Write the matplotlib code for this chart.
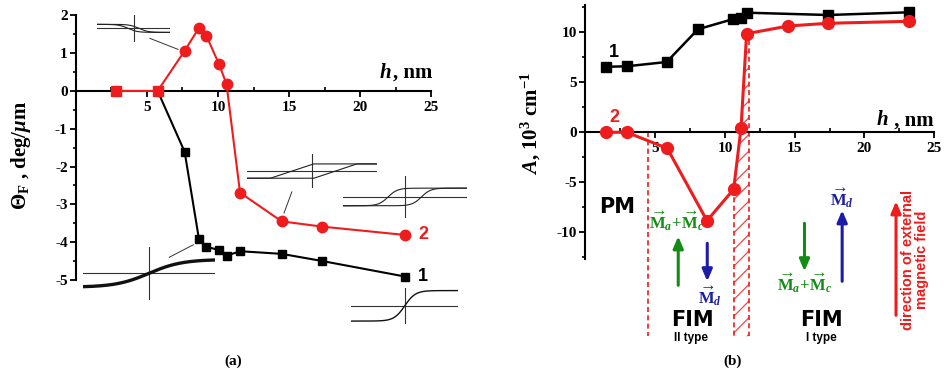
import matplotlib
matplotlib.use('Agg')
import matplotlib.pyplot as plt
from matplotlib.patches import Polygon
from matplotlib.ticker import FixedLocator
import numpy as np

plt.rcParams['font.family'] = ['Liberation Serif', 'DejaVu Serif']
plt.rcParams['font.weight'] = 'bold'
plt.rcParams['mathtext.fontset'] = 'custom'
plt.rcParams['mathtext.rm'] = 'Liberation Serif:bold'
plt.rcParams['mathtext.bf'] = 'Liberation Serif:bold'
plt.rcParams['mathtext.it'] = 'Liberation Serif:italic:bold'
plt.rcParams['axes.unicode_minus'] = False
plt.rcParams['hatch.linewidth'] = 0.9

RED = '#ee1c1c'
GREEN = '#148c14'
BLUE = '#1c1ca8'

# ---- panel (a): Faraday rotation vs thickness ----
h_a = [2.8, 5.75, 7.65, 8.66, 9.18, 10.07, 10.6, 11.55, 14.48, 17.35, 23.17]
theta_2 = [0, 0, 1.06, 1.67, 1.46, 0.71, 0.18, -2.69, -3.45, -3.59, -3.81]
h_a1 = [5.75, 7.65, 8.66, 9.18, 10.07, 10.6, 11.55, 14.48, 17.35, 23.17]
theta_1 = [0, -1.61, -3.92, -4.12, -4.21, -4.36, -4.24, -4.31, -4.5, -4.91]
n_pm = 2  # first points of curve 2 are drawn as squares

# ---- panel (b): A vs thickness ----
h_b1 = [1.45, 2.95, 5.82, 8.06, 10.6, 11.12, 11.55, 17.4, 23.2]
A_1 = [6.55, 6.6, 7.03, 10.3, 11.33, 11.46, 11.96, 11.73, 12.0]
h_b2 = [1.45, 2.95, 5.86, 8.71, 10.62, 11.15, 11.55, 14.54, 17.36, 23.2]
A_2 = [0, 0, -1.6, -8.84, -5.7, 0.4, 9.86, 10.63, 10.9, 11.1]
pm_boundary = 4.45
fim_gap = (10.62, 11.72)

fig = plt.figure(figsize=(9.44, 3.79), dpi=100)
fig.patch.set_facecolor('white')
ax_a = fig.add_axes([0.0805, 0.1317, 0.4182, 0.8478])
ax_b = fig.add_axes([0.6202, 0.0916, 0.3798, 0.8997])


def style_axes(ax, ylo, yhi, ymaj, ymin):
    for s in ['top', 'right']:
        ax.spines[s].set_visible(False)
    ax.spines['bottom'].set_position(('data', 0))
    ax.spines['bottom'].set_bounds(0, 25)
    ax.spines['left'].set_bounds(ylo, yhi)
    for s in ['bottom', 'left']:
        ax.spines[s].set_linewidth(1.5)
    ax.set_xticks([5, 10, 15, 20, 25])
    ax.xaxis.set_minor_locator(FixedLocator(np.arange(2.5, 25, 5)))
    ax.set_yticks(np.arange(np.ceil(ylo / ymaj) * ymaj, yhi + 0.01, ymaj))
    ax.yaxis.set_minor_locator(FixedLocator(np.arange(np.ceil(ylo / ymin) * ymin, yhi + 0.01, ymin)))
    ax.tick_params(axis='x', which='major', direction='out', length=4, width=1.3,
                   labelsize=11, pad=3)
    ax.tick_params(axis='x', which='minor', direction='in', length=3, width=1.2)
    ax.tick_params(axis='y', which='major', direction='out', length=4, width=1.3,
                   labelsize=11, pad=2)
    ax.tick_params(axis='y', which='minor', direction='out', length=2.5, width=1.2)
    ax.set_facecolor('none')


def inset_loop(ax, bounds, kind, lw=0.8):
    iax = ax.inset_axes(bounds, transform=ax.transData)
    iax.set_xlim(-1, 1)
    iax.set_ylim(-1, 1)
    iax.axis('off')
    iax.plot([-1, 1], [0, 0], color='#333333', lw=0.8)
    iax.plot([0, 0], [-1, 1], color='#333333', lw=0.8)
    x = np.linspace(-1, 1, 200)
    if kind == 'inverted':
        for c in (-0.15, 0.15):
            iax.plot(x, -0.3 * np.tanh((x + c) / 0.25), color='#222222', lw=lw)
    elif kind == 'ramp':
        for c in (-0.31, 0.36):
            iax.plot(x, 0.42 * np.clip((x - c) / 0.33, -1, 1), color='#222222', lw=lw)
    elif kind == 'lens':
        for c in (-0.27, 0.27):
            iax.plot(x, 0.42 * np.tanh((x - c) / 0.15), color='#222222', lw=lw)
    elif kind == 'soft':
        iax.plot(x, 0.52 * np.tanh(x / 0.5), color='#111111', lw=2.4)
    elif kind == 'steep':
        iax.plot(x, 0.85 * np.tanh(x / 0.2), color='#111111', lw=1.0)
    return iax


# ---------- panel (a) ----------
ax = ax_a
ax.set_xlim(0, 27.8)
ax.set_ylim(-6.3, 2.2)
style_axes(ax, -5, 2, 1, 0.5)

ax.plot(h_a1, theta_1, color='black', lw=1.5, marker='s', ms=6, zorder=3)
ax.plot(h_a, theta_2, color=RED, lw=1.5, zorder=4)
ax.plot(h_a[:n_pm], theta_2[:n_pm], ls='none', marker='s', ms=7, color=RED, zorder=5)
ax.plot(h_a[n_pm:], theta_2[n_pm:], ls='none', marker='o', ms=7.5, color=RED, zorder=5)

ax.text(24.1, -4.91, '1', fontsize=13, family='Liberation Sans', fontweight='bold',
        ha='left', va='center', color='black')
ax.text(24.1, -3.81, '2', fontsize=13, family='Liberation Sans', fontweight='bold',
        ha='left', va='center', color=RED)

ax.text(22.25, 0.48, '$h$', fontsize=15, ha='right', va='center')
ax.text(22.3, 0.48, ', nm', fontsize=15, ha='left', va='center')
ax.set_ylabel(r'$\mathit{\Theta}_{\rm F}$ , deg/$\mu$m', fontsize=15, fontweight='bold')
ax.yaxis.set_label_coords(-0.109, 0.542)

# hysteresis loop sketches
inset_loop(ax, [1.48, 1.30, 5.14, 0.71], 'inverted')
inset_loop(ax, [12.04, -2.57, 9.16, 0.90], 'ramp')
inset_loop(ax, [18.8, -3.36, 8.7, 1.11], 'lens')
inset_loop(ax, [0.49, -5.53, 9.3, 1.41], 'soft')
inset_loop(ax, [19.4, -6.16, 7.5, 0.95], 'steep')
for (x0, y0), (x1, y1) in [((5.21, 1.39), (7.18, 1.10)),
                           ((15.2, -2.67), (14.65, -3.23)),
                           ((6.57, -4.40), (8.26, -4.07))]:
    ax.plot([x0, x1], [y0, y1], color='#333333', lw=0.7)

# ---------- panel (b) ----------
ax = ax_b
ax.set_xlim(0, 25.7)
ax.set_ylim(-21.2, 12.9)
style_axes(ax, -12.7, 12.7, 5, 2.5)

ax.plot(h_b1, A_1, color='black', lw=1.8, marker='s', ms=7, zorder=3)
ax.plot(h_b2, A_2, color=RED, lw=2.2, marker='o', ms=8.5, zorder=4)

# phase boundaries
ax.plot([pm_boundary, pm_boundary], [0, -20.4], color=RED, lw=1.2, ls=(0, (3, 2)))
gap = Polygon([(fim_gap[0], A_2[4]), (h_b2[5], A_2[5]), (h_b2[6], A_2[6]),
               (fim_gap[1], A_2[6] - 0.6), (fim_gap[1], -20.4), (fim_gap[0], -20.4)],
              closed=True, facecolor='none', edgecolor='#f04848', hatch='//', lw=0, zorder=2)
ax.add_patch(gap)
for xb, ytop in [(fim_gap[0], A_2[4]), (fim_gap[1], A_2[6] - 0.6)]:
    ax.plot([xb, xb], [ytop, -20.4], color=RED, lw=1.2, ls=(0, (3, 2)), zorder=2)

ax.text(2.04, 8.0, '1', fontsize=13, family='Liberation Sans', fontweight='bold',
        ha='center', va='center', color='black')
ax.text(2.04, 1.45, '2', fontsize=13, family='Liberation Sans', fontweight='bold',
        ha='center', va='center', color=RED)
ax.text(21.7, 1.2, '$h$', fontsize=15, ha='right', va='center')
ax.text(21.75, 1.2, ' , nm', fontsize=15, ha='left', va='center')
ax.set_ylabel(r'$A$, 10$^3$ cm$^{-1}$', fontsize=15, fontweight='bold')
ax.yaxis.set_label_coords(-0.118, 0.649)

sans = dict(family='DejaVu Sans', fontweight='bold', ha='center', va='center')
ax.text(2.3, -7.5, 'PM', fontsize=15, **sans)
ax.text(7.7, -18.8, 'FIM', fontsize=15, **sans)
ax.text(7.6, -20.6, 'II type', fontsize=8.5, family='Liberation Sans', fontweight='bold',
        ha='center', va='center')
ax.text(16.9, -18.8, 'FIM', fontsize=15, **sans)
ax.text(16.9, -20.6, 'I type', fontsize=8.5, family='Liberation Sans', fontweight='bold',
        ha='center', va='center')

mac = r'$\overrightarrow{\rm M}_a\!+\!\overrightarrow{\rm M}_c$'
md = r'$\overrightarrow{\rm M}_d$'
ax.text(6.55, -8.9, mac, fontsize=12, color=GREEN, ha='center', va='center')
ax.text(8.9, -16.4, md, fontsize=12, color=BLUE, ha='center', va='center')
ax.text(15.7, -15.1, mac, fontsize=12, color=GREEN, ha='center', va='center')
ax.text(18.4, -6.6, md, fontsize=12, color=BLUE, ha='center', va='center')

for x, y0, y1, c in [(6.65, -15.3, -10.4, GREEN), (8.73, -11.1, -14.9, BLUE),
                     (15.7, -9.1, -13.9, GREEN), (18.4, -14.9, -7.8, BLUE),
                     (22.26, -18.3, -6.9, RED)]:
    ax.annotate('', xy=(x, y1), xytext=(x, y0),
                arrowprops=dict(arrowstyle='-|>,head_width=0.3,head_length=0.7',
                                color=c, lw=2.2, shrinkA=0, shrinkB=0))

ax.text(23.65, -12.8, 'direction of external\nmagnetic field', rotation=90,
        fontsize=10.5, color=RED, family='Liberation Sans', fontweight='bold',
        ha='center', va='center', linespacing=1.0)

fig.text(0.2468, 0.0475, '(a)', fontsize=11, fontweight='bold', ha='center', va='center')
fig.text(0.7765, 0.0475, '(b)', fontsize=11, fontweight='bold', ha='center', va='center')

fig.savefig('out.png', dpi=100, facecolor='white')
